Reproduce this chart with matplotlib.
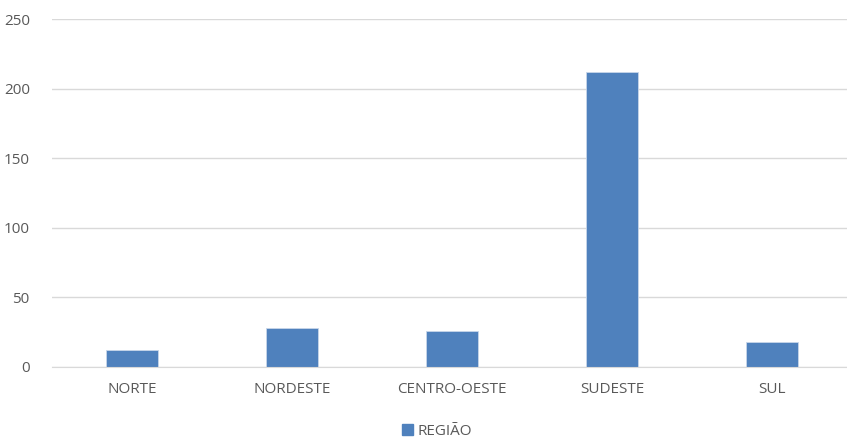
import matplotlib.pyplot as plt
from matplotlib.patches import Patch

regioes = ["NORTE", "NORDESTE", "CENTRO-OESTE", "SUDESTE", "SUL"]
valores = [12, 28, 26, 212, 18]
yticks = [0, 50, 100, 150, 200, 250]
serie = "REGIÃO"

cor_barra = "#4f81bd"
cor_texto = "#595959"
cor_grade = "#d9d9d9"

plt.rcParams['font.family'] = ['Open Sans', 'DejaVu Sans']

fig = plt.figure(figsize=(8.47, 4.40), dpi=100)
ax = fig.add_axes([52 / 847, 0.1666, 1 - 52 / 847, 0.956 - 0.1666])

x = range(len(regioes))
ax.bar(x, valores, width=0.32, color=cor_barra, edgecolor="#c8d6ea", linewidth=0.6, zorder=2)

ax.set_xlim(-0.5, 4.469)
ax.set_ylim(0, 250)
ax.set_yticks(yticks)
ax.set_xticks(list(x))
ax.set_xticklabels(regioes)
ax.grid(axis='y', color=cor_grade, linewidth=1, zorder=0)
ax.tick_params(axis='both', length=0, colors=cor_texto, labelsize=11)
ax.tick_params(axis='x', pad=11)
ax.tick_params(axis='y', pad=16)
for s in ax.spines.values():
    s.set_visible(False)
ax.spines['bottom'].set_visible(True)
ax.spines['bottom'].set_color(cor_grade)

fig.legend(handles=[Patch(color=cor_barra, label=serie)], loc='center',
           bbox_to_anchor=(437 / 847, 1 - 431 / 440), frameon=False,
           handlelength=0.7, handleheight=0.7, handletextpad=0.3,
           fontsize=11, labelcolor=cor_texto)

fig.savefig("out.png", dpi=100)
